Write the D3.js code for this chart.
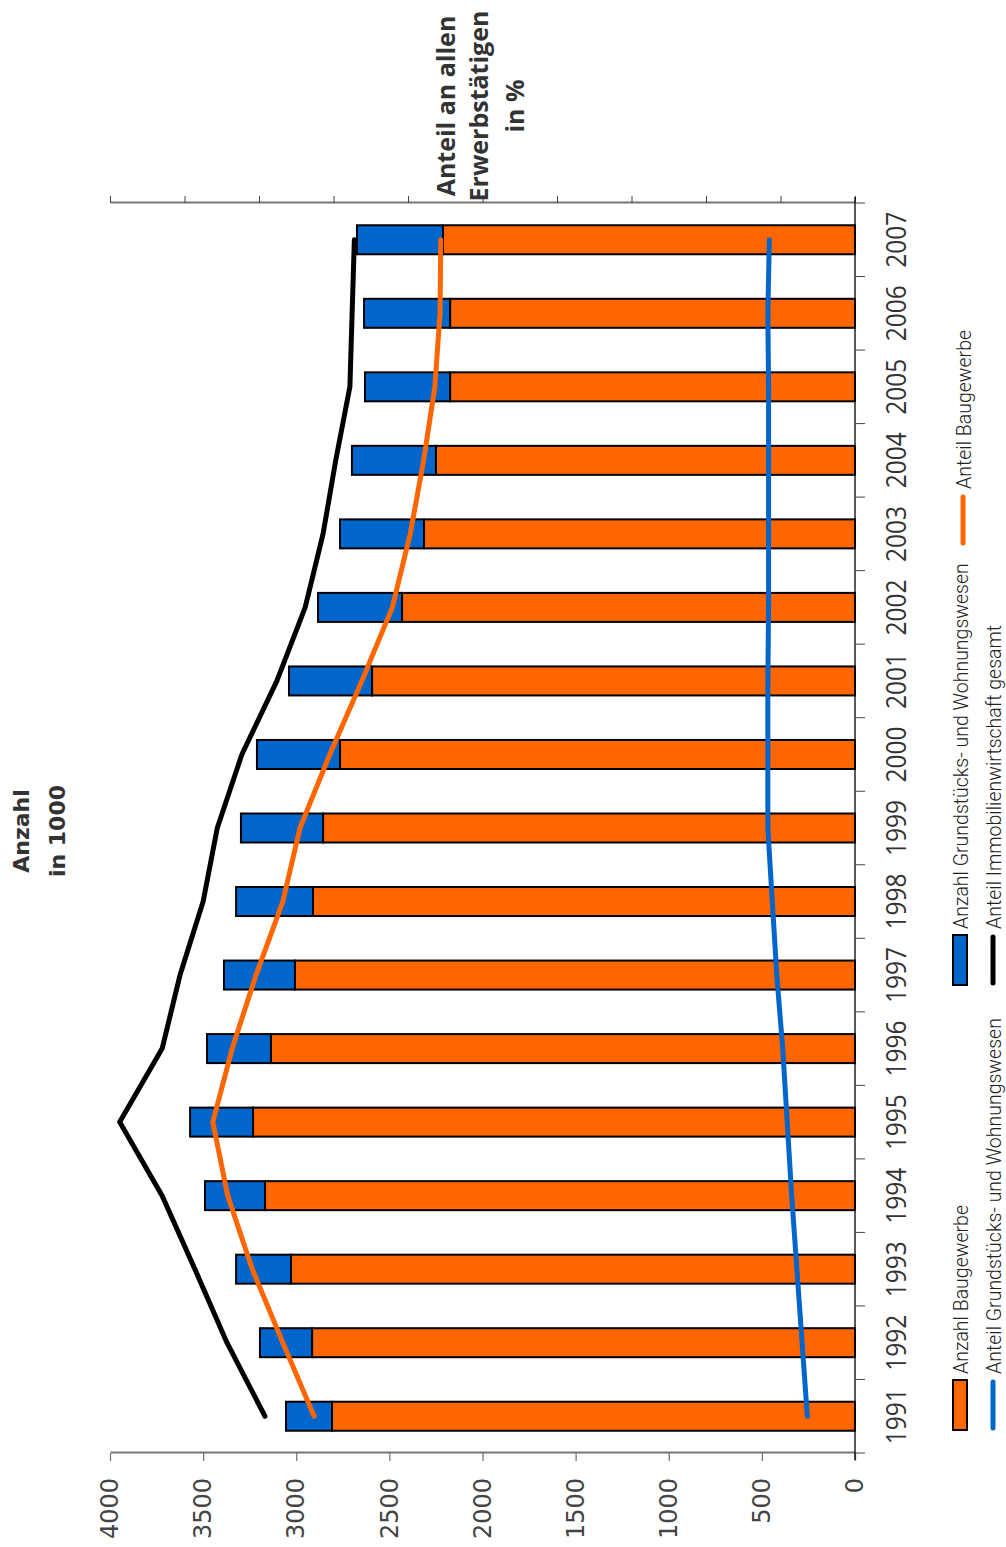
<!DOCTYPE html>
<html>
<head>
<meta charset="utf-8">
<script src="https://cdn.jsdelivr.net/npm/d3@7"></script>
<style>
	body { margin: 0; background: #fff; }
	svg { display: block; }
</style>
</head>
<body>
<svg id="SvgChart"></svg>
<script>
// ------ Data
var years = [1991, 1992, 1993, 1994, 1995, 1996, 1997, 1998, 1999, 2000, 2001, 2002, 2003, 2004, 2005, 2006, 2007];
// Anzahl in 1000
var anzahlBau = [2808, 2915, 3028, 3168, 3232, 3136, 3007, 2910, 2856, 2765, 2593, 2432, 2314, 2250, 2174, 2174, 2212];
var anzahlGW  = [247, 280, 295, 322, 338, 343, 381, 413, 441, 446, 446, 451, 451, 451, 457, 462, 462];
// Anteil an allen Erwerbstaetigen in %
var anteilBau    = [7.26, 7.68, 8.09, 8.42, 8.62, 8.36, 8.04, 7.68, 7.45, 7.05, 6.62, 6.21, 5.97, 5.79, 5.64, 5.57, 5.56];
var anteilGW     = [0.64, 0.71, 0.78, 0.85, 0.91, 0.97, 1.05, 1.11, 1.17, 1.17, 1.17, 1.16, 1.16, 1.16, 1.16, 1.17, 1.15];
var anteilGesamt = [7.92, 8.43, 8.86, 9.30, 9.87, 9.30, 9.06, 8.75, 8.56, 8.23, 7.76, 7.38, 7.14, 6.97, 6.78, 6.75, 6.72];
var valueTicks = [0, 500, 1000, 1500, 2000, 2500, 3000, 3500, 4000];

var colBau = "#ff6600", colGW = "#0066cc";

// ------ Sizes (chart is drawn upright, then turned -90 deg)
var pageW = 1006, pageH = 1547;

var svg = d3.select("#SvgChart")
	.attr("width", pageW)
	.attr("height", pageH);

var g = svg.append("g")
	.attr("transform", "translate(0," + pageH + ") rotate(-90)");

// ------ Scales
var x = d3.scaleBand().domain(years).range([94, 1344]).padding(0);
var y = d3.scaleLinear().domain([0, 4000]).range([855, 110]);
var yPct = d3.scaleLinear().domain([0, 10]).range([855, 110]);
var barW = 29;

// ------ Value axis (left)
var yAxis = g.append("g")
	.attr("transform", "translate(94,0)")
	.call(d3.axisLeft(y).tickValues(valueTicks).tickFormat(d3.format("d"))
		.tickSize(8).tickSizeOuter(0).tickPadding(17));
yAxis.select(".domain").attr("stroke", "#777").attr("stroke-width", 2);
yAxis.selectAll(".tick line").attr("stroke", "#777").attr("stroke-width", 1.3);
yAxis.selectAll("text")
	.attr("font-family", "DejaVu Sans")
	.attr("font-size", 24)
	.attr("fill", "#444");

// ------ Percent axis (right, no labels)
var pAxis = g.append("g")
	.attr("transform", "translate(1344,0)")
	.call(d3.axisRight(yPct).ticks(10).tickSize(7).tickSizeOuter(0).tickFormat(""));
pAxis.select(".domain").attr("stroke", "#777").attr("stroke-width", 2);
pAxis.selectAll(".tick line").attr("stroke", "#444");

// ------ Year axis (bottom)
g.append("line")
	.attr("x1", 87).attr("x2", 1350)
	.attr("y1", 855).attr("y2", 855)
	.attr("stroke", "#000").attr("stroke-width", 1.3);

var bounds = years.map(function(d) { return x(d); }).concat([x(years[years.length - 1]) + x.bandwidth()]);
g.selectAll(".ytick").data(bounds)
	.enter().append("line")
	.attr("class", "ytick")
	.attr("x1", function(d) { return d; })
	.attr("x2", function(d) { return d; })
	.attr("y1", 855).attr("y2", 865)
	.attr("stroke", "#444");

g.selectAll(".ylabel").data(years)
	.enter().append("text")
	.attr("class", "ylabel")
	.attr("x", function(d) { return x(d) + x.bandwidth() / 2; })
	.attr("y", 906)
	.attr("text-anchor", "middle")
	.attr("font-family", "Open Sans")
	.attr("font-size", 28)
	.attr("textLength", 56)
	.attr("lengthAdjust", "spacingAndGlyphs")
	.attr("fill", "#333")
	.text(function(d) { return d; });

// ------ Bars
var bars = g.selectAll(".bar").data(years)
	.enter().append("g")
	.attr("class", "bar");

bars.append("rect")
	.attr("x", function(d) { return x(d) + x.bandwidth() / 2 - barW / 2; })
	.attr("width", barW)
	.attr("y", function(d, i) { return y(anzahlBau[i]); })
	.attr("height", function(d, i) { return y(0) - y(anzahlBau[i]); })
	.attr("fill", colBau)
	.attr("stroke", "#000").attr("stroke-width", 2);

bars.append("rect")
	.attr("x", function(d) { return x(d) + x.bandwidth() / 2 - barW / 2; })
	.attr("width", barW)
	.attr("y", function(d, i) { return y(anzahlBau[i] + anzahlGW[i]); })
	.attr("height", function(d, i) { return y(anzahlBau[i]) - y(anzahlBau[i] + anzahlGW[i]); })
	.attr("fill", colGW)
	.attr("stroke", "#000").attr("stroke-width", 2);

// ------ Lines
var lineGen = function(arr) {
	return d3.line()
		.x(function(d, i) { return x(years[i]) + x.bandwidth() / 2; })
		.y(function(d) { return yPct(d); })(arr);
};
[[anteilGesamt, "#000"], [anteilBau, colBau], [anteilGW, colGW]].forEach(function(s) {
	g.append("path")
		.attr("d", lineGen(s[0]))
		.attr("fill", "none")
		.attr("stroke", s[1])
		.attr("stroke-width", 5)
		.attr("stroke-linecap", "round")
		.attr("stroke-linejoin", "round");
});

// ------ Titles
var t1 = g.append("text")
	.attr("text-anchor", "middle")
	.attr("font-family", "DejaVu Sans")
	.attr("font-weight", "bold")
	.attr("font-size", 22)
	.attr("fill", "#333");
t1.append("tspan").attr("x", 716).attr("y", 29).text("Anzahl");
t1.append("tspan").attr("x", 716).attr("y", 65).text("in 1000");

var t2 = g.append("text")
	.attr("text-anchor", "middle")
	.attr("font-family", "Open Sans")
	.attr("font-weight", "bold")
	.attr("font-size", 25)
	.attr("fill", "#333");
t2.append("tspan").attr("x", 1441).attr("y", 455).text("Anteil an allen");
t2.append("tspan").attr("x", 1441).attr("y", 488).text("Erwerbstätigen");
t2.append("tspan").attr("x", 1441).attr("y", 524).text("in %");

// ------ Legend
var legendItems = [
	{type: "rect", color: colBau, x: 117, y: 953, label: "Anzahl Baugewerbe"},
	{type: "line", color: colGW, x: 117, y: 993, label: "Anteil Grundstücks- und Wohnungswesen"},
	{type: "rect", color: colGW, x: 562, y: 953, label: "Anzahl Grundstücks- und Wohnungswesen"},
	{type: "line", color: "#000", x: 562, y: 993, label: "Anteil Immobilienwirtschaft gesamt"},
	{type: "line", color: colBau, x: 1002, y: 963, label: "Anteil Baugewerbe"}
];
var legend = g.selectAll(".legend").data(legendItems)
	.enter().append("g")
	.attr("class", "legend")
	.attr("transform", function(d) { return "translate(" + d.x + "," + d.y + ")"; });

legend.filter(function(d) { return d.type == "rect"; })
	.append("rect")
	.attr("width", 50).attr("height", 14)
	.attr("fill", function(d) { return d.color; })
	.attr("stroke", "#000").attr("stroke-width", 2);

legend.filter(function(d) { return d.type == "line"; })
	.append("line")
	.attr("x1", 2).attr("x2", 48)
	.attr("y1", 0).attr("y2", 0)
	.attr("stroke", function(d) { return d.color; })
	.attr("stroke-width", 5)
	.attr("stroke-linecap", "round");

legend.append("text")
	.attr("x", 56)
	.attr("y", function(d) { return d.type == "rect" ? 15 : 8; })
	.attr("font-family", "Roboto")
	.attr("font-weight", 300)
	.attr("font-size", 19.5)
	.attr("fill", "#222")
	.text(function(d) { return d.label; });
</script>
</body>
</html>
